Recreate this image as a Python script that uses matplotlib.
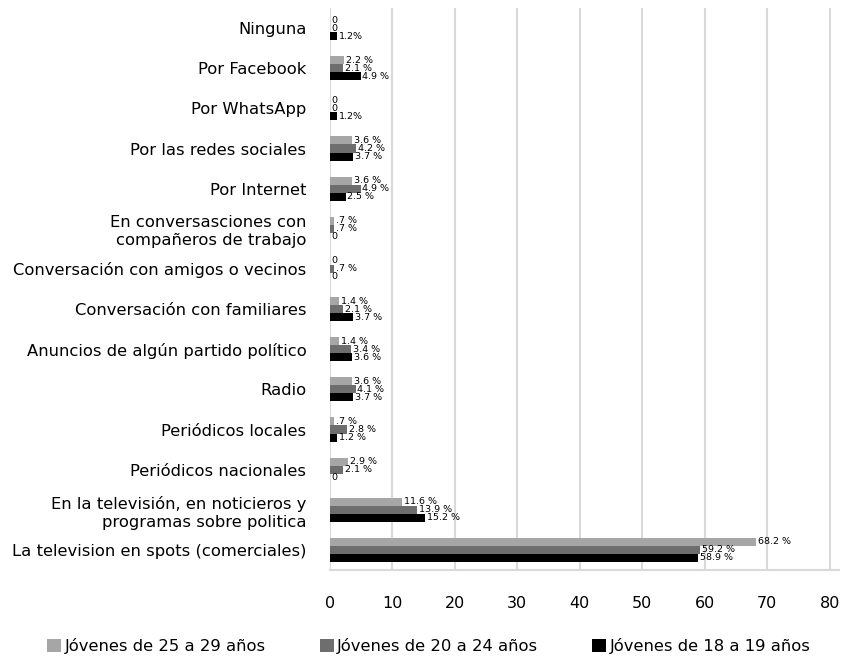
import matplotlib
matplotlib.use("Agg")
import matplotlib.pyplot as plt
import numpy as np
from matplotlib.patches import Patch

categories = [
    "Ninguna",
    "Por Facebook",
    "Por WhatsApp",
    "Por las redes sociales",
    "Por Internet",
    "En conversasciones con\ncompañeros de trabajo",
    "Conversación con amigos o vecinos",
    "Conversación con familiares",
    "Anuncios de algún partido político",
    "Radio",
    "Periódicos locales",
    "Periódicos nacionales",
    "En la televisión, en noticieros y\nprogramas sobre politica",
    "La television en spots (comerciales)",
]
series_names = ["Jóvenes de 25 a 29 años", "Jóvenes de 20 a 24 años", "Jóvenes de 18 a 19 años"]
v25_29 = [0, 2.2, 0, 3.6, 3.6, 0.7, 0, 1.4, 1.4, 3.6, 0.7, 2.9, 11.6, 68.2]
v20_24 = [0, 2.1, 0, 4.2, 4.9, 0.7, 0.7, 2.1, 3.4, 4.1, 2.8, 2.1, 13.9, 59.2]
v18_19 = [1.2, 4.9, 1.2, 3.7, 2.5, 0, 0, 3.7, 3.6, 3.7, 1.2, 0, 15.2, 58.9]
l25_29 = ["0", "2.2 %", "0", "3.6 %", "3.6 %", ".7 %", "0", "1.4 %", "1.4 %", "3.6 %", ".7 %", "2.9 %", "11.6 %", "68.2 %"]
l20_24 = ["0", "2.1 %", "0", "4.2 %", "4.9 %", ".7 %", ".7 %", "2.1 %", "3.4 %", "4.1 %", "2.8 %", "2.1 %", "13.9 %", "59.2 %"]
l18_19 = ["1.2%", "4.9 %", "1.2%", "3.7 %", "2.5 %", "0", "0", "3.7 %", "3.6 %", "3.7 %", "1.2 %", "0", "15.2 %", "58.9 %"]
xticks = [0, 10, 20, 30, 40, 50, 60, 70, 80]

colors = ["#a6a6a6", "#6e6e6e", "#000000"]
plt.rcParams['font.family'] = ['DejaVu Sans']

fig = plt.figure(figsize=(8.44, 6.56), dpi=100)
ax = fig.add_axes([330/844, 1-570/656, 509/844, 562/656])

n = len(categories)
y = np.arange(n)
h = 0.2
offsets = [-h, 0, h]
for vals, labs, col, off, name in zip([v25_29, v20_24, v18_19], [l25_29, l20_24, l18_19], colors, offsets, series_names):
    bars = ax.barh(y + off, vals, height=h, color=col, label=name, zorder=3)
    for b, v, lab in zip(bars, vals, labs):
        ax.text(v + 0.3, b.get_y() + b.get_height()/2, lab, va='center', ha='left',
                fontsize=6.8, color='black', zorder=4)

ax.set_ylim(n - 0.5, -0.5)
ax.set_xlim(0, 81.5)
ax.set_yticks(y)
ax.set_yticklabels(categories, fontsize=11.8, ha='right', linespacing=1.25)
ax.set_xticks(xticks)
ax.set_xticklabels([str(t) for t in xticks], fontsize=11.5)
ax.tick_params(axis='y', length=0, pad=17)
ax.tick_params(axis='x', length=0, pad=19)
ax.grid(axis='x', color='#d9d9d9', linewidth=1.5, zorder=0)
for s in ['top', 'right', 'left']:
    ax.spines[s].set_visible(False)
ax.spines['bottom'].set_color('#d9d9d9')
ax.spines['bottom'].set_linewidth(1.5)

handles = [Patch(facecolor=c, edgecolor='none') for c in colors]
fig.legend(handles, series_names, loc='center', bbox_to_anchor=(0.508, 1-646/656), ncol=3,
           frameon=False, fontsize=11.8, handlelength=0.85, handleheight=0.85,
           handletextpad=0.2, columnspacing=3.3)

fig.savefig("out.png", dpi=100)
